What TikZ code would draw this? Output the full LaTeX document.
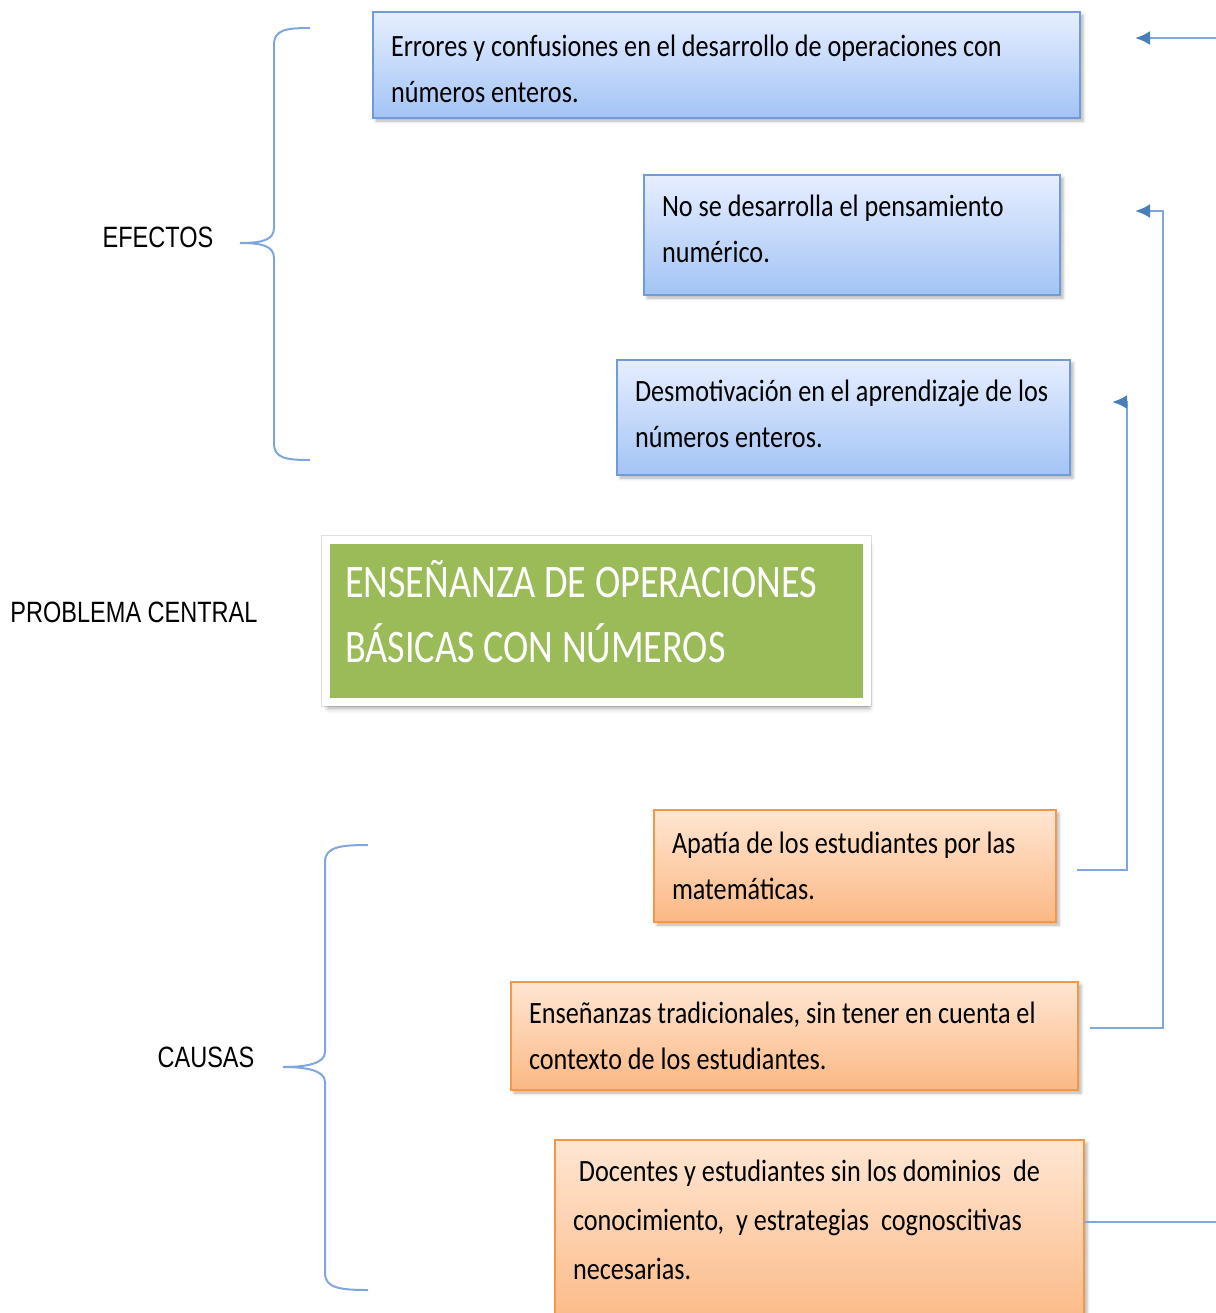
\documentclass[tikz,border=0pt]{standalone}
\usepackage{fontspec}
\newfontfamily\cajafont[FakeStretch=0.845]{Carlito}
\newfontfamily\verdefont[FakeStretch=0.82]{Carlito}
\newfontfamily\rotulofont[FakeStretch=0.8]{Liberation Sans}
\usetikzlibrary{arrows.meta,shadows.blur}
\definecolor{azulborde}{HTML}{6F9BD8}
\definecolor{azularriba}{HTML}{E6EEFF}
\definecolor{azulabajo}{HTML}{A3C4F5}
\definecolor{naranjaborde}{HTML}{F79646}
\definecolor{naranjaarriba}{HTML}{FFE6D2}
\definecolor{naranjaabajo}{HTML}{FBB884}
\definecolor{verde}{HTML}{9BBB59}
\definecolor{lineaazul}{HTML}{7FA7DB}
\definecolor{puntaazul}{HTML}{4A7EBB}

\begin{document}
\begin{tikzpicture}[x=0.5pt,y=-0.5pt,
	efecto/.style={rectangle,draw=azulborde,line width=0.6pt,top color=azularriba,bottom color=azulabajo,anchor=north west,outer sep=0pt,align=flush left,inner xsep=9pt,font=\cajafont\fontsize{15.5}{23}\selectfont,blur shadow={shadow xshift=1.5pt,shadow yshift=-1.5pt,shadow blur radius=1.5pt,shadow opacity=30}},
	causa/.style={efecto,draw=naranjaborde,top color=naranjaarriba,bottom color=naranjaabajo},
	problema/.style={rectangle,fill=verde,draw=white,line width=4pt,preaction={draw=black!12,line width=5pt},anchor=north west,outer sep=0pt,align=flush left,inner xsep=9.5pt,inner ysep=10pt,text height=18.5pt,text depth=42.5pt,text=white,font=\verdefont\fontsize{23.3}{32.5}\selectfont,blur shadow={shadow xshift=1pt,shadow yshift=-3pt,shadow blur radius=2.5pt,shadow opacity=35}},
	rotulo/.style={font=\rotulofont\fontsize{14.7}{17}\selectfont},
	llave/.style={draw=lineaazul,line width=1pt},
	conector/.style={draw=lineaazul,line width=1.3pt},
	flecha/.style={conector,-{Latex[length=7.5pt,width=7pt,color=puntaazul]}}]

	\useasboundingbox (0,0) rectangle (1216,1313);

	\node[efecto,minimum width=353.5pt,minimum height=53pt,text width=335.5pt]		(e1)	at (373,12)		{\rule{0pt}{15pt}Errores y confusiones en el desarrollo de operaciones con\\números enteros.};
	\node[efecto,minimum width=208pt,minimum height=60pt,text width=190pt]			(e2)	at (644,175)	{No se desarrolla el pensamiento\\numérico.\rule[-6pt]{0pt}{0pt}};
	\node[efecto,minimum width=226.5pt,minimum height=57.5pt,text width=208.5pt]	(e3)	at (617,360)	{Desmotivación en el aprendizaje de los\\números enteros.\rule[-4pt]{0pt}{0pt}};

	\node[problema,minimum width=270.5pt,text width=251.5pt]	(pc)	at (326,540)	{ENSEÑANZA DE OPERACIONES\\BÁSICAS CON NÚMEROS};

	\node[causa,minimum width=201pt,minimum height=56pt,text width=183pt]			(c1)	at (654,810)	{Apatía de los estudiantes por las\\matemáticas.};
	\node[causa,minimum width=283.5pt,minimum height=54pt,text width=265.5pt]		(c2)	at (511,982)	{Enseñanzas tradicionales, sin tener en cuenta el\\contexto de los estudiantes.};
	\node[causa,minimum width=264.5pt,text width=246.5pt,inner ysep=8.5pt,text height=12pt,text depth=66pt,font=\cajafont\fontsize{15.5}{24.5}\selectfont]	(c3)	at (555,1140)	{\ Docentes y estudiantes sin los dominios\ \ de\\conocimiento,\ \ y estrategias\ \ cognoscitivas\\necesarias.};

	\node[rotulo]	(ef)	at (158,237)	{EFECTOS};
	\node[rotulo]	(pr)	at (134,612)	{PROBLEMA CENTRAL};
	\node[rotulo]	(ca)	at (206,1057)	{CAUSAS};

	\draw[llave] (310,28) .. controls (285,28) and (274,30) .. (274,45) -- (274,228) .. controls (274,240) and (262,243) .. (240,243) .. controls (262,243) and (274,246) .. (274,258) -- (274,443) .. controls (274,458) and (285,460) .. (310,460);
	\draw[llave] (368,845) .. controls (340,845) and (325,847) .. (325,862) -- (325,1052) .. controls (325,1064) and (305,1067) .. (283,1067) .. controls (305,1067) and (325,1070) .. (325,1082) -- (325,1273) .. controls (325,1288) and (340,1290) .. (368,1290);

	\coordinate	(r1)	at (1216,38);
	\coordinate	(t1)	at (1135,38);
	\coordinate	(t2)	at (1135,211);
	\coordinate	(t3)	at (1112,402);
	\coordinate	(r3)	at (1216,1222);

	\draw[flecha] (r1) -- (t1);
	\draw[flecha,shorten <=6pt] ([yshift=4pt]c2.east) -- ++(85,0) |- (t2);
	\draw[flecha,shorten <=10.5pt] ([yshift=-2pt]c1.east) -- ++(71,0) |- (t3);
	\draw[conector] (c3.east |- r3) -- (r3);
\end{tikzpicture}
\end{document}
